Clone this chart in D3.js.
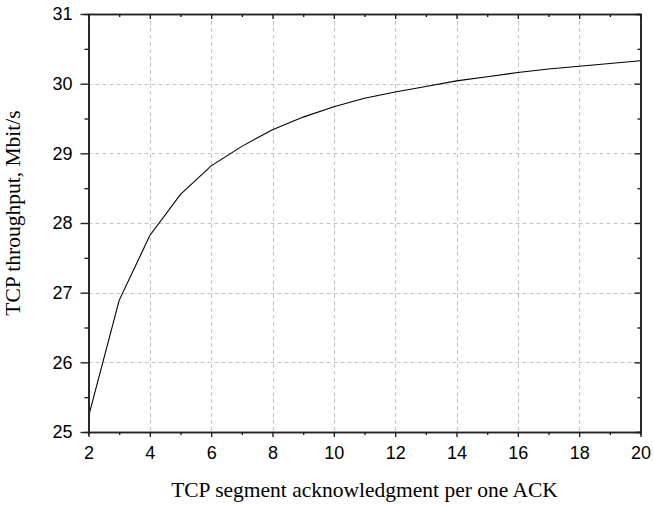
<!DOCTYPE html>
<html>
<head>
<meta charset="utf-8">
<script src="https://cdn.jsdelivr.net/npm/d3@7"></script>
<style>
html,body{margin:0;padding:0;background:#fff;}
svg{display:block;}
</style>
</head>
<body>
<svg id="chart" width="654" height="506"></svg>
<script>
const xValues = [2,3,4,5,6,7,8,9,10,11,12,13,14,15,16,17,18,19,20];
const throughput = [25.22,26.89,27.82,28.41,28.82,29.10,29.34,29.52,29.67,29.79,29.88,29.96,30.04,30.10,30.16,30.21,30.25,30.29,30.33];
const xTicks = [2,4,6,8,10,12,14,16,18,20];
const yTicks = [25,26,27,28,29,30,31];
const xTitle = "TCP segment acknowledgment per one ACK";
const yTitle = "TCP throughput, Mbit/s";

(function(){
const svg = d3.select("#chart");
const L = 88.5, R = 640.5, T = 14, B = 432;
const x = d3.scaleLinear().domain([2,20]).range([L,R]);
const y = d3.scaleLinear().domain([25,31]).range([B,T]);

const xMinor = d3.range(3,20,2);
const yMinor = d3.range(25.5,31,1);

// grid
const grid = svg.append("g").attr("stroke","#c4c4c4").attr("stroke-width",1).attr("stroke-dasharray","4,3");
grid.selectAll(".gx").data(xTicks.slice(1,-1)).enter().append("line")
  .attr("x1",d=>Math.round(x(d))+0.5).attr("x2",d=>Math.round(x(d))+0.5).attr("y1",T).attr("y2",B);
grid.selectAll(".gy").data(yTicks.slice(1,-1)).enter().append("line")
  .attr("y1",d=>Math.round(y(d))+0.5).attr("y2",d=>Math.round(y(d))+0.5).attr("x1",L).attr("x2",R);

// line
const line = d3.line().x((d,i)=>x(xValues[i])).y(d=>y(d));
svg.append("path").datum(throughput).attr("d",line).attr("fill","none").attr("stroke","#000").attr("stroke-width",1.1);

const font = "Liberation Sans, Arial, Helvetica, sans-serif";
const fmt = d3.format("d");
// axes
const gBottom = svg.append("g").attr("transform",`translate(0,${B})`)
  .call(d3.axisBottom(x).tickValues(xTicks).tickSize(5).tickSizeOuter(0).tickPadding(9).tickFormat(fmt));
gBottom.append("g").call(d3.axisBottom(x).tickValues(xMinor).tickSize(3).tickFormat(""));
const gLeft = svg.append("g").attr("transform",`translate(${L},0)`)
  .call(d3.axisLeft(y).tickValues(yTicks).tickSize(8).tickSizeOuter(0).tickPadding(8).tickFormat(fmt));
gLeft.append("g").call(d3.axisLeft(y).tickValues(yMinor).tickSize(4).tickFormat(""));
const gTop = svg.append("g").attr("transform",`translate(0,${T})`)
  .call(d3.axisBottom(x).tickValues(xTicks).tickSize(5).tickSizeOuter(0).tickFormat(""));
gTop.append("g").call(d3.axisBottom(x).tickValues(xMinor).tickSize(3).tickFormat(""));
const gRight = svg.append("g").attr("transform",`translate(${R},0)`)
  .call(d3.axisLeft(y).tickValues(yTicks).tickSize(6).tickSizeOuter(0).tickFormat(""));
gRight.append("g").call(d3.axisLeft(y).tickValues(yMinor).tickSize(3).tickFormat(""));

svg.selectAll(".domain").attr("stroke","#222").attr("stroke-width",1.6);
svg.selectAll(".tick line").attr("stroke","#222").attr("stroke-width",1.4);
svg.selectAll(".tick text").attr("font-family",font).attr("font-size",18).attr("fill","#000");

// titles
svg.append("text").attr("x",(L+R)/2).attr("y",497).attr("text-anchor","middle")
  .attr("font-family","Liberation Serif, Times New Roman, serif").attr("font-size",21.5).text(xTitle);
svg.append("text").attr("transform",`translate(20,213) rotate(-90)`).attr("text-anchor","middle")
  .attr("font-family","Liberation Serif, Times New Roman, serif").attr("font-size",21.5).text(yTitle);
})();
</script>
</body>
</html>
